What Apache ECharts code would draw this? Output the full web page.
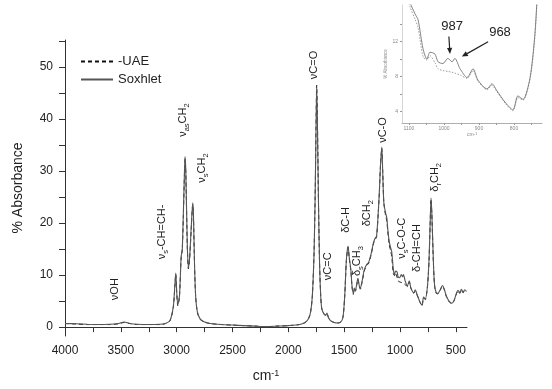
<!DOCTYPE html>
<html>
<head>
<meta charset="utf-8">
<script src="https://cdn.jsdelivr.net/npm/echarts@6/dist/echarts.min.js"></script>
<style>
html, body { margin: 0; padding: 0; background: #fff; }
#main { width: 552px; height: 389px; }
</style>
</head>
<body>
<div id="main"></div>
<script>
// wavenumber (cm-1) and absorbance
var wavenumbers = [4000, 3900, 3800, 3700, 3600, 3520, 3470, 3420, 3350, 3250, 3150, 3100, 3060, 3030, 3015, 3008, 3000, 2990, 2975, 2960,
    2950, 2940, 2930, 2925, 2918, 2905, 2895, 2885, 2870, 2856, 2850, 2840, 2830, 2815, 2790, 2750, 2700, 2600, 2500, 2400,
    2300, 2200, 2100, 2000, 1900, 1850, 1820, 1800, 1785, 1770, 1760, 1752, 1746, 1740, 1730, 1720, 1710, 1700, 1680, 1665,
    1654, 1640, 1620, 1590, 1560, 1530, 1510, 1495, 1480, 1465, 1455, 1440, 1430, 1418, 1410, 1400, 1390, 1377, 1365, 1355,
    1340, 1320, 1300, 1280, 1260, 1238, 1225, 1210, 1195, 1185, 1175, 1163, 1155, 1145, 1130, 1118, 1110, 1097, 1083, 1074,
    1060, 1049, 1040, 1026, 1017, 1003, 989, 977, 969, 954, 934, 917, 903, 877, 863, 849, 826, 803, 789, 774,
    754, 740, 730, 722, 715, 700, 690, 675, 660, 640, 620, 605, 585, 560, 535, 515, 495, 480, 465, 450,
    435, 420, 405];
var soxhlet = [0.7, 0.65, 0.55, 0.5, 0.55, 0.7, 1.0, 0.7, 0.55, 0.5, 0.55, 0.7, 1.3, 4, 8.5, 10.4, 7, 4.3, 6, 13.5,
    15, 22, 30, 32.8, 30, 16, 11.5, 13, 19, 23.9, 22, 12, 6, 3, 1.6, 1.0, 0.7, 0.5, 0.4, 0.3,
    0.2, 0.1, 0.2, 0.3, 0.5, 0.9, 1.6, 3, 6, 14, 25, 38, 46.2, 40, 24, 12, 6, 3.5, 2.5, 2.3,
    2.7, 1.8, 1.2, 0.9, 0.8, 1.0, 2, 6, 13, 15.6, 13.5, 11, 8, 6.5, 7.5, 7, 8, 9.4, 8, 7.5,
    8.8, 11, 12, 12.5, 14, 16.2, 17, 17.5, 22, 26, 31, 34.6, 30, 24, 22, 21, 19, 16.5, 15.2, 14.5,
    11.2, 10, 10.8, 10.6, 9.7, 9.5, 10.1, 9.7, 10.1, 8.9, 7.9, 8.9, 7.6, 6.6, 7.2, 6.4, 5.1, 4.2, 5.8, 5.4,
    7.9, 13, 20, 24.8, 22, 12, 8, 6.6, 6.5, 7.2, 8, 7.4, 6, 5, 4.6, 5.2, 6.5, 7.1, 6.6, 7.3,
    6.7, 7.2, 6.9];
var uae = [0.7, 0.6, 0.5, 0.5, 0.5, 0.65, 0.9, 0.7, 0.5, 0.5, 0.5, 0.7, 1.2, 3.8, 8.2, 10.2, 6.8, 4.1, 5.8, 13.2,
    14.8, 21.5, 29.5, 32.4, 29.6, 15.6, 11.2, 12.8, 18.6, 23.6, 21.7, 11.8, 5.9, 2.9, 1.5, 1.0, 0.7, 0.5, 0.4, 0.3,
    0.2, 0.1, 0.2, 0.3, 0.5, 0.9, 1.6, 3, 6, 14, 25, 38.5, 46.5, 40.5, 24, 12, 6, 3.5, 2.5, 2.3,
    2.6, 1.8, 1.2, 0.9, 0.8, 1.0, 2, 6, 12.8, 15.4, 13.3, 10.8, 7.8, 6.3, 7.3, 6.9, 7.8, 9.2, 7.9, 7.3,
    8.6, 10.8, 11.8, 12.3, 13.8, 16, 16.8, 17.3, 21.8, 25.8, 31, 34.4, 30, 24, 21.6, 20.4, 18.5, 16, 14.6, 13.6,
    10.3, 9.9, 10.4, 9.6, 8.9, 8.7, 8.6, 8.5, 8.4, 8.2, 7.8, 8.7, 7.5, 6.5, 7, 6.3, 5, 4.1, 5.6, 5.3,
    7.8, 12.8, 19.8, 24.6, 21.8, 11.8, 7.9, 6.5, 6.4, 7.1, 7.9, 7.3, 5.9, 4.9, 4.5, 5.1, 6.4, 7, 6.5, 7.2,
    6.6, 7.1, 6.8];

var xTicks = [4000, 3750, 3500, 3250, 3000, 2750, 2500, 2250, 2000, 1750, 1500, 1250, 1000, 750, 500];
var xLabels = [4000, 3500, 3000, 2500, 2000, 1500, 1000, 500];
var yTicks = [0, 5, 10, 15, 20, 25, 30, 35, 40, 45, 50, 55];
var yLabels = [0, 10, 20, 30, 40, 50];
var insetXTicks = [1100, 1050, 1000, 950, 900, 850, 800, 750];
var insetXLabels = [1100, 1000, 900, 800];
var insetYTicks = [4, 6, 8, 10, 12, 14];
var insetYLabels = [4, 8, 12];

// band assignments: [text (rich), wavenumber, absorbance of label centre]
var bands = [
    ['{n|νOH}', 3552, 7.3],
    ['{n|ν}{s|s}{n|-CH=CH-}', 3131, 18.3],
    ['{n|ν}{s|as}{n|CH}{s|2}', 2943, 39.8],
    ['{n|ν}{s|s}{n|CH}{s|2}', 2773, 30.6],
    ['{n|νC=O}', 1770, 50.4],
    ['{n|νC=C}', 1645, 11.7],
    ['{n|δC-H}', 1484, 20.6],
    ['{n|δ}{s|s}{n|CH}{s|3}', 1385, 12.7],
    ['{n|δCH}{s|2}', 1296, 21.9],
    ['{n|νC-O}', 1152, 37.9],
    ['{n|ν}{s|s}{n|C-O-C}', 982, 17.1],
    ['{n|δ-CH=CH}', 848, 15.2],
    ['{n|δ}{s|r}{n|CH}{s|2}', 687, 28.8]
];
// inset call-outs: [text, text pos, arrow start, arrow tip]
var callouts = [
    ['987', [977, 13.7], [986, 12.6], [983, 10.6]],
    ['968', [840, 13.1], [874, 12.0], [949, 10.3]]
];

var font = 'Liberation Sans, Arial, sans-serif';

function pairs(ys) {
    return wavenumbers.map(function (x, i) { return [x, ys[i]]; });
}
function plain(v) { return String(v); }

var chart = echarts.init(document.getElementById('main'));

var mainAxisLine = { lineStyle: { color: '#333', width: 1 } };
var option = {
    animation: false,
    backgroundColor: '#fff',
    textStyle: { fontFamily: font },
    legend: {
        left: 80, top: 55, orient: 'vertical', padding: 0,
        itemWidth: 32, itemHeight: 12, itemGap: 5,
        data: ['-UAE', 'Soxhlet'],
        itemStyle: { opacity: 0 },
        textStyle: { fontSize: 13, color: '#222', fontFamily: font }
    },
    grid: [
        { left: 65, top: 40, width: 402, height: 296 },
        { left: 402, top: 5, width: 140, height: 118 }
    ],
    xAxis: [{
        gridIndex: 0, type: 'value', inverse: true, min: 400, max: 4000,
        name: '{a|cm}{b|-1}', nameLocation: 'middle', nameGap: 33,
        nameTextStyle: { rich: { a: { fontSize: 14, color: '#222', fontFamily: font }, b: { fontSize: 9, color: '#222', verticalAlign: 'top', fontFamily: font } } },
        axisLine: mainAxisLine,
        axisTick: { customValues: xTicks, length: 5, lineStyle: { color: '#333' } },
        axisLabel: { customValues: xLabels, formatter: plain, fontSize: 12, color: '#222', margin: 9 },
        splitLine: { show: false }
    }, {
        gridIndex: 1, type: 'value', inverse: true, min: 720, max: 1120,
        name: '{a|cm}{b|-1}', nameLocation: 'middle', nameGap: 7,
        nameTextStyle: { rich: { a: { fontSize: 5, color: '#888' }, b: { fontSize: 4, color: '#888', verticalAlign: 'top' } } },
        axisLine: { lineStyle: { color: '#999', width: 0.8 } },
        axisTick: { customValues: insetXTicks, length: 2, lineStyle: { color: '#999' } },
        axisLabel: { customValues: insetXLabels, formatter: plain, fontSize: 5, color: '#888', margin: 3 },
        splitLine: { show: false }
    }],
    yAxis: [{
        gridIndex: 0, type: 'value', min: -1.7, max: 55.2,
        name: '% Absorbance', nameLocation: 'middle', nameGap: 40,
        nameTextStyle: { fontSize: 14, color: '#222' },
        axisLine: mainAxisLine,
        axisTick: { customValues: yTicks, length: 6, lineStyle: { color: '#333' } },
        axisLabel: { customValues: yLabels, formatter: plain, fontSize: 12, color: '#222', margin: 12 },
        splitLine: { show: false }
    }, {
        gridIndex: 1, type: 'value', min: 2.7, max: 16.2,
        name: '% Absorbance', nameLocation: 'middle', nameGap: 9,
        nameTextStyle: { fontSize: 4.5, color: '#888' },
        axisLine: { lineStyle: { color: '#bbb', width: 0.6 } },
        axisTick: { customValues: insetYTicks, length: 2, lineStyle: { color: '#999' } },
        axisLabel: { customValues: insetYLabels, formatter: plain, fontSize: 5, color: '#888', margin: 4 },
        splitLine: { show: false }
    }],
    series: [{
        name: '-UAE', type: 'line', xAxisIndex: 0, yAxisIndex: 0,
        data: pairs(uae), showSymbol: false, symbol: 'none', smooth: 0.25,
        lineStyle: { color: '#111', width: 1, type: [4, 3] }, itemStyle: { color: '#111' }
    }, {
        name: 'Soxhlet', type: 'line', xAxisIndex: 0, yAxisIndex: 0,
        data: pairs(soxhlet), showSymbol: false, symbol: 'none', smooth: 0.25,
        lineStyle: { color: '#555', width: 1.1 }, itemStyle: { color: '#555' }
    }, {
        name: '-UAE', type: 'line', xAxisIndex: 1, yAxisIndex: 1,
        data: pairs(uae), showSymbol: false, symbol: 'none', smooth: 0.25, clip: true,
        lineStyle: { color: '#888', width: 0.8, type: [1.5, 1.5] }
    }, {
        name: 'Soxhlet', type: 'line', xAxisIndex: 1, yAxisIndex: 1,
        data: pairs(soxhlet), showSymbol: false, symbol: 'none', smooth: 0.25, clip: true,
        lineStyle: { color: '#777', width: 0.9 }
    }]
};
chart.setOption(option);

// annotations placed through the axes
var graphics = [];
var rich = {
    n: { fontSize: 11, fontFamily: font, fill: '#222', lineHeight: 15 },
    s: { fontSize: 7.5, fontFamily: font, fill: '#222', verticalAlign: 'bottom' }
};
bands.forEach(function (b) {
    var p = chart.convertToPixel({ xAxisIndex: 0, yAxisIndex: 0 }, [b[1], b[2]]);
    graphics.push({
        type: 'text', x: p[0], y: p[1], rotation: Math.PI / 2,
        style: { text: b[0], rich: rich, align: 'center', verticalAlign: 'middle', fill: '#222' }
    });
});
callouts.forEach(function (c) {
    var t = chart.convertToPixel({ xAxisIndex: 1, yAxisIndex: 1 }, c[1]);
    var a = chart.convertToPixel({ xAxisIndex: 1, yAxisIndex: 1 }, c[2]);
    var b = chart.convertToPixel({ xAxisIndex: 1, yAxisIndex: 1 }, c[3]);
    graphics.push({
        type: 'text', x: t[0], y: t[1],
        style: { text: c[0], font: '13px ' + font, fill: '#222', align: 'center', verticalAlign: 'middle' }
    });
    var ang = Math.atan2(b[1] - a[1], b[0] - a[0]);
    var hl = 6, hw = 2.6;
    var bx = b[0] - hl * Math.cos(ang), by = b[1] - hl * Math.sin(ang);
    graphics.push({
        type: 'line', shape: { x1: a[0], y1: a[1], x2: bx, y2: by },
        style: { stroke: '#222', lineWidth: 1.2 }
    });
    graphics.push({
        type: 'polygon',
        shape: { points: [[b[0], b[1]],
            [bx + hw * Math.sin(ang), by - hw * Math.cos(ang)],
            [bx - hw * Math.sin(ang), by + hw * Math.cos(ang)]] },
        style: { fill: '#222' }
    });
});
chart.setOption({ graphic: graphics });
</script>
</body>
</html>
